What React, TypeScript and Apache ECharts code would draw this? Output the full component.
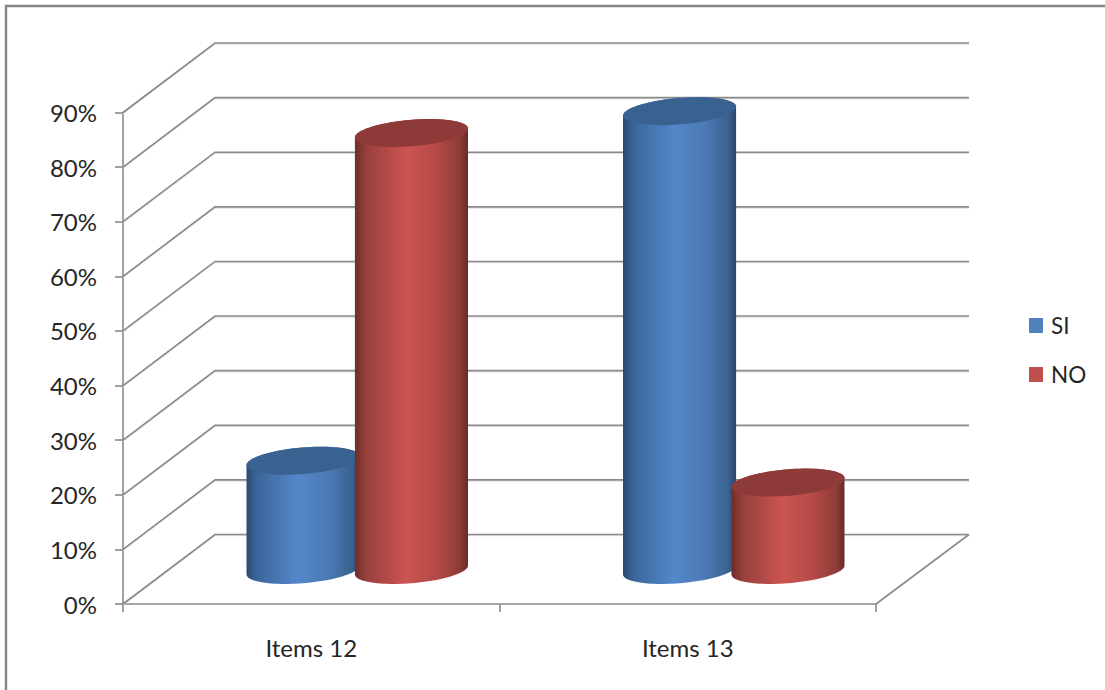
import React, { useEffect, useRef } from "react";
import * as echarts from "echarts";

const categories = ["Items 12", "Items 13"];
const siValues = [20, 84];
const noValues = [80, 16];
const yTicks = [0, 10, 20, 30, 40, 50, 60, 70, 80, 90];

const FONT = 'Lato, "Open Sans", sans-serif';
const AXIS = "#8a8a8a";
const DEPTH_X = 92;
const DEPTH_Y = 69.5;
const RX = 53.6;
const VX = 18;
const VY = 14;
const SPACING = 54.2;

function ellipse(cx: number, cy: number, from: number, to: number, n = 48) {
  const pts: number[][] = [];
  for (let i = 0; i <= n; i++) {
    const t = from + ((to - from) * i) / n;
    pts.push([cx + RX * Math.cos(t) + VX * Math.sin(t), cy - VY * Math.sin(t)]);
  }
  return pts;
}

function cylinder(sign: number, stops: string[], top: string) {
  return (_: any, api: any) => {
    const base = api.coord([api.value(0), 0]);
    const head = api.coord([api.value(0), api.value(1)]);
    const cx = base[0] + DEPTH_X / 2 + sign * SPACING;
    const by = base[1] - DEPTH_Y / 2 + 0.7;
    const ty = head[1] - DEPTH_Y / 2 + 0.7;
    const t0 = Math.atan2(VX, RX);
    const body = [
      ...ellipse(cx, by, t0 - Math.PI, t0),
      ...ellipse(cx, ty, t0, t0 + Math.PI),
    ];
    const offs = [0, 0.1, 0.45, 0.72, 0.93, 1];
    return {
      type: "group",
      children: [
        {
          type: "polygon",
          shape: { points: body },
          style: {
            fill: new echarts.graphic.LinearGradient(
              0, 0, 1, 0,
              stops.map((color, i) => ({ offset: offs[i], color })),
            ),
          },
        },
        {
          type: "polygon",
          shape: { points: ellipse(cx, ty, 0, Math.PI * 2, 72) },
          style: { fill: top },
        },
      ],
    };
  };
}

function wallLine(params: any, api: any) {
  const sys = params.coordSys;
  const v = api.value(0);
  const p = api.coord([0, v]);
  const x = sys.x;
  const y = p[1];
  const pts = [
    [x, y],
    [x + DEPTH_X, y - DEPTH_Y],
    [x + sys.width + DEPTH_X + 1, y - DEPTH_Y],
  ];
  const children: any[] = [
    {
      type: "polyline",
      shape: { points: pts.map(([a, b]) => [a, b + 1.2]) },
      style: { fill: "none", stroke: "#dcdcdc", lineWidth: 1 },
    },
    {
      type: "polyline",
      shape: { points: pts },
      style: { fill: "none", stroke: AXIS, lineWidth: 1.6 },
    },
  ];
  if (v === 0) {
    children.push({
      type: "line",
      shape: {
        x1: x + sys.width,
        y1: y,
        x2: x + sys.width + DEPTH_X + 1,
        y2: y - DEPTH_Y,
      },
      style: { stroke: AXIS, lineWidth: 1.6 },
    });
  }
  return { type: "group", children };
}

export default function App() {
  const ref = useRef<HTMLDivElement>(null);
  useEffect(() => {
    const chart = echarts.init(ref.current!, null, { renderer: "svg" });
    chart.setOption({
      animation: false,
      backgroundColor: "#ffffff",
      textStyle: { fontFamily: FONT },
      grid: { left: 123, top: 112.5, width: 753, height: 491.5 },
      legend: {
        data: ["SI", "NO"],
        orient: "vertical",
        left: 1024,
        top: 309,
        itemWidth: 14,
        itemHeight: 15,
        itemGap: 26,
        icon: "rect",
        textStyle: { fontFamily: FONT, fontSize: 22.5, color: "#262626", padding: [0, 0, 0, 3] },
      },
      xAxis: {
        type: "category",
        data: categories,
        axisLine: { lineStyle: { color: AXIS, width: 1.6 } },
        axisTick: { show: true, length: 8, lineStyle: { color: AXIS, width: 1.6 } },
        axisLabel: { fontFamily: FONT, fontSize: 24, color: "#262626", margin: 31 },
        splitLine: { show: false },
      },
      yAxis: {
        type: "value",
        min: 0,
        max: 90,
        interval: 10,
        axisLine: { show: true, lineStyle: { color: AXIS, width: 1.6 } },
        axisTick: { show: true, length: 8, lineStyle: { color: AXIS, width: 1.6 } },
        axisLabel: { fontFamily: FONT, fontSize: 24, color: "#262626", margin: 26, formatter: "{value}%" },
        splitLine: { show: false },
      },
      series: [
        {
          type: "custom",
          name: "walls",
          silent: true,
          renderItem: wallLine,
          data: yTicks.map((v) => [v]),
          encode: { y: 0 },
          z: 1,
        },
        {
          type: "custom",
          name: "SI",
          itemStyle: { color: "#4F81BD" },
          renderItem: cylinder(-1, ["#2A4A72", "#3C679C", "#5387C9", "#4B7BB5", "#3B6290", "#284668"], "#3A6291"),
          data: siValues.map((v, i) => [i, v]),
          encode: { x: 0, y: 1 },
          z: 2,
        },
        {
          type: "custom",
          name: "NO",
          itemStyle: { color: "#C0504D" },
          renderItem: cylinder(1, ["#6C2D2B", "#98403D", "#CB5451", "#B54A47", "#8E3B38", "#662A28"], "#8E3A38"),
          data: noValues.map((v, i) => [i, v]),
          encode: { x: 0, y: 1 },
          z: 3,
        },
      ],
      graphic: [
        {
          type: "polyline",
          silent: true,
          shape: { points: [[6, 690], [6, 6], [1105, 6]] },
          style: { fill: "none", stroke: "#868686", lineWidth: 2.4 },
        },
      ],
    });
    return () => chart.dispose();
  }, []);
  return (
    <div
      ref={ref}
      style={{ position: "fixed", left: 0, top: 0, width: 1105, height: 690 }}
    />
  );
}
